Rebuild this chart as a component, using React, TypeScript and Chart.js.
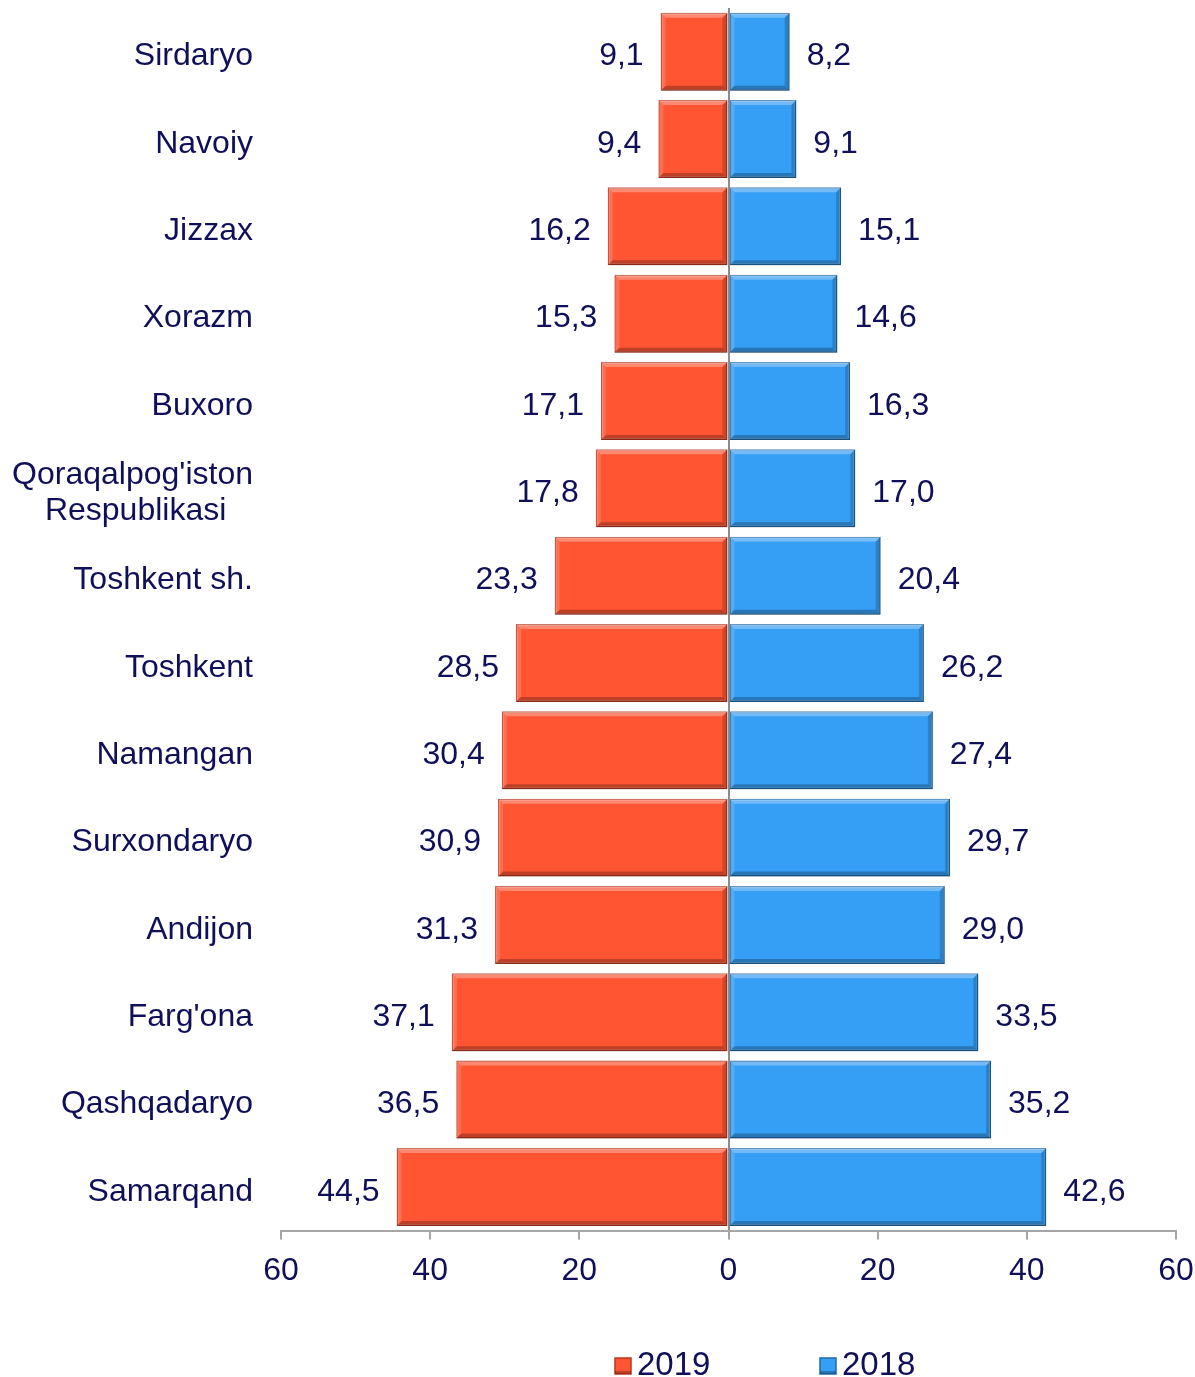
import React, { useEffect, useRef } from "react";
import { Chart, registerables } from "chart.js";

Chart.register(...registerables);

const regions: (string | string[])[] = [
  "Sirdaryo",
  "Navoiy",
  "Jizzax",
  "Xorazm",
  "Buxoro",
  ["Qoraqalpog'iston", "Respublikasi   "],
  "Toshkent sh.",
  "Toshkent",
  "Namangan",
  "Surxondaryo",
  "Andijon",
  "Farg'ona",
  "Qashqadaryo",
  "Samarqand",
];
const values2019 = [9.1, 9.4, 16.2, 15.3, 17.1, 17.8, 23.3, 28.5, 30.4, 30.9, 31.3, 37.1, 36.5, 44.5];
const values2018 = [8.2, 9.1, 15.1, 14.6, 16.3, 17.0, 20.4, 26.2, 27.4, 29.7, 29.0, 33.5, 35.2, 42.6];
const seriesNames = ["2019", "2018"];
const xTicks = [-60, -40, -20, 0, 20, 40, 60];

const TEXT = "#10105a";
const FONT = "'Liberation Sans', Arial, sans-serif";
const RED = "#ff5533";
const RED_DARK = "#b8391f";
const BLUE = "#359ef5";
const BLUE_DARK = "#1f6aa8";

const fmt = (v: number) => Math.abs(v).toFixed(1).replace(".", ",");

const bevelPlugin = {
  id: "bevel",
  afterDatasetsDraw(chart: any) {
    const ctx = chart.ctx;
    chart.data.datasets.forEach((_ds: any, di: number) => {
      const meta = chart.getDatasetMeta(di);
      meta.data.forEach((el: any) => {
        const left = Math.min(el.x, el.base);
        const right = Math.max(el.x, el.base);
        const top = el.y - el.height / 2;
        const bottom = el.y + el.height / 2;
        const b = 5;
        ctx.save();
        ctx.fillStyle = "rgba(255,255,255,0.3)";
        ctx.beginPath();
        ctx.moveTo(left, top);
        ctx.lineTo(right, top);
        ctx.lineTo(right - b, top + b);
        ctx.lineTo(left + b, top + b);
        ctx.closePath();
        ctx.fill();
        ctx.fillStyle = "rgba(255,255,255,0.15)";
        ctx.beginPath();
        ctx.moveTo(left, top);
        ctx.lineTo(left + b, top + b);
        ctx.lineTo(left + b, bottom - b);
        ctx.lineTo(left, bottom);
        ctx.closePath();
        ctx.fill();
        ctx.fillStyle = "rgba(0,0,0,0.25)";
        ctx.beginPath();
        ctx.moveTo(left, bottom);
        ctx.lineTo(right, bottom);
        ctx.lineTo(right - b, bottom - b);
        ctx.lineTo(left + b, bottom - b);
        ctx.closePath();
        ctx.fill();
        ctx.fillStyle = "rgba(0,0,0,0.18)";
        ctx.beginPath();
        ctx.moveTo(right, top);
        ctx.lineTo(right - b, top + b);
        ctx.lineTo(right - b, bottom - b);
        ctx.lineTo(right, bottom);
        ctx.closePath();
        ctx.fill();
        ctx.restore();
      });
    });
  },
};

const valueLabelPlugin = {
  id: "valueLabels",
  afterDatasetsDraw(chart: any) {
    const ctx = chart.ctx;
    ctx.save();
    ctx.font = `32px ${FONT}`;
    ctx.fillStyle = TEXT;
    ctx.textBaseline = "middle";
    chart.data.datasets.forEach((ds: any, di: number) => {
      const meta = chart.getDatasetMeta(di);
      meta.data.forEach((el: any, i: number) => {
        const v = ds.data[i];
        if (v < 0) {
          ctx.textAlign = "right";
          ctx.fillText(fmt(v), el.x - 17, el.y + 5);
        } else {
          ctx.textAlign = "left";
          ctx.fillText(fmt(v), el.x + 17, el.y + 5);
        }
      });
    });
    ctx.restore();
  },
};

const legendPlugin = {
  id: "customLegend",
  afterDraw(chart: any) {
    const ctx = chart.ctx;
    const items = [
      { x: 615, color: RED, dark: RED_DARK, label: seriesNames[0] },
      { x: 820, color: BLUE, dark: BLUE_DARK, label: seriesNames[1] },
    ];
    const yc = 1366;
    ctx.save();
    items.forEach((it) => {
      ctx.fillStyle = it.color;
      ctx.fillRect(it.x, yc - 8, 16, 16);
      ctx.strokeStyle = it.dark;
      ctx.lineWidth = 1.5;
      ctx.strokeRect(it.x, yc - 8, 16, 16);
      ctx.fillStyle = "rgba(0,0,0,0.25)";
      ctx.fillRect(it.x, yc + 5, 16, 3);
      ctx.font = `33px ${FONT}`;
      ctx.fillStyle = TEXT;
      ctx.textAlign = "left";
      ctx.textBaseline = "middle";
      ctx.fillText(it.label, it.x + 22, yc);
    });
    ctx.restore();
  },
};

const whiteBg = {
  id: "whiteBg",
  beforeDraw(chart: any) {
    const ctx = chart.ctx;
    ctx.save();
    ctx.fillStyle = "#ffffff";
    ctx.fillRect(0, 0, chart.width, chart.height);
    ctx.restore();
  },
};

export default function App() {
  const ref = useRef<HTMLCanvasElement | null>(null);
  useEffect(() => {
    if (!ref.current) return;
    const chart = new Chart(ref.current, {
      type: "bar",
      data: {
        labels: regions,
        datasets: [
          {
            label: seriesNames[0],
            data: values2019.map((v) => -v),
            backgroundColor: RED,
            borderColor: RED_DARK,
            borderWidth: 1.5,
            borderSkipped: false,
            barPercentage: 0.893,
            categoryPercentage: 1,
          },
          {
            label: seriesNames[1],
            data: values2018,
            backgroundColor: BLUE,
            borderColor: BLUE_DARK,
            borderWidth: 1.5,
            borderSkipped: false,
            barPercentage: 0.893,
            categoryPercentage: 1,
          },
        ],
      },
      options: {
        indexAxis: "y",
        animation: false,
        responsive: true,
        maintainAspectRatio: false,
        layout: { padding: { top: 8, right: 19, bottom: 75, left: 0 } },
        plugins: {
          legend: { display: false },
          tooltip: { enabled: false },
        },
        scales: {
          x: {
            stacked: true,
            min: -60,
            max: 60,
            z: 1,
            afterBuildTicks: (scale: any) => {
              scale.ticks = xTicks.map((v) => ({ value: v }));
            },
            afterFit: (scale: any) => {
              scale.paddingLeft = 0;
              scale.paddingRight = 0;
            },
            ticks: {
              color: TEXT,
              font: { family: FONT, size: 32 },
              padding: 12,
              callback: (v: any) => String(Math.abs(Number(v))),
              maxRotation: 0,
              autoSkip: false,
            },
            grid: {
              color: (c: any) => (c.tick && c.tick.value === 0 ? "#8c8c8c" : "rgba(0,0,0,0)"),
              lineWidth: 2,
              tickColor: "#a6a6a6",
              tickLength: 9,
              drawTicks: true,
            },
            border: { color: "#a6a6a6", width: 2 },
          },
          y: {
            stacked: true,
            afterFit: (scale: any) => {
              scale.width = 281;
              scale.paddingTop = 0;
              scale.paddingBottom = 0;
            },
            ticks: {
              color: TEXT,
              font: { family: FONT, size: 32, lineHeight: 1.13 },
              padding: 28,
              labelOffset: 5,
              autoSkip: false,
            },
            grid: { display: false, drawTicks: false },
            border: { display: false },
          },
        },
      },
      plugins: [whiteBg, bevelPlugin, valueLabelPlugin, legendPlugin],
    });
    return () => chart.destroy();
  }, []);
  return (
    <div style={{ position: "fixed", left: 0, top: 0, width: 1195, height: 1377, background: "#fff" }}>
      <canvas ref={ref} />
    </div>
  );
}
